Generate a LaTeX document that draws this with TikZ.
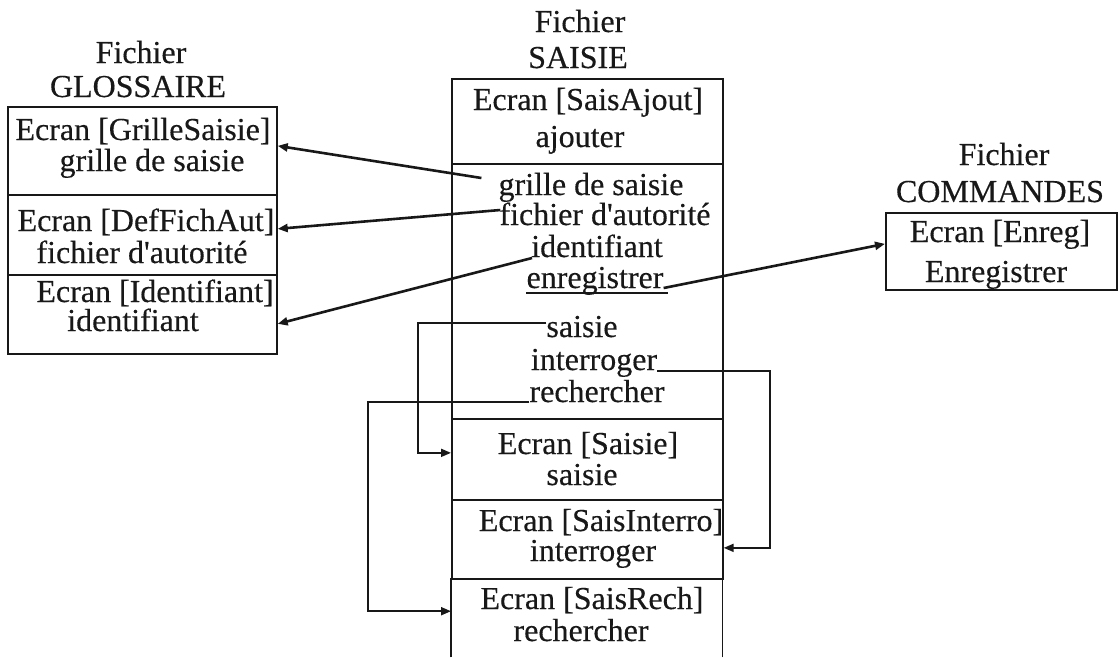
\documentclass[tikz,border=0pt]{standalone}
\usepackage{fontspec}
\setmainfont{Liberation Serif}
\newfontfamily\scanserif[FakeBold=0.35]{Liberation Serif}
\usetikzlibrary{arrows.meta,calc}
\definecolor{ink}{RGB}{24,24,24}
\begin{document}
\begin{tikzpicture}[x=1pt,y=-1pt,
  lbl/.style={inner sep=0pt, anchor=base, text=ink, font=\scanserif\fontsize{32}{32}\selectfont},
  cell/.style={draw=ink, line width=1.7pt, anchor=north west, inner sep=0pt},
  ghost/.style={anchor=north west, inner sep=0pt},
  link/.style={draw=ink, line width=2.6pt, -{Triangle[length=10pt,width=8pt]}},
  loop/.style={draw=ink, line width=1.9pt, -{Triangle[length=10pt,width=8pt]}}
]
\useasboundingbox (0,0) rectangle (1119,657);

% ---- GLOSSAIRE file ----
\node[lbl] (tgl1) at (141,63) {Fichier};
\node[lbl] (tgl2) at (138,97) {GLOSSAIRE};
\node[cell, minimum width=269pt, minimum height=88pt] (gl1) at (7,106) {};
\node[cell, minimum width=269pt, minimum height=80pt] (gl2) at (7,194) {};
\node[cell, minimum width=269pt, minimum height=79pt] (gl3) at (7,274) {};
\node[lbl] (g1a) at (143,140) {Ecran [GrilleSaisie]};
\node[lbl] (g1b) at (152,171) {grille de saisie};
\node[lbl] (g2a) at (146,231) {Ecran [DefFichAut]};
\node[lbl] (g2b) at (142,263) {fichier d'autorité};
\node[lbl] (g3a) at (155,302) {Ecran [Identifiant]};
\node[lbl] (g3b) at (133,331) {identifiant};

% ---- SAISIE file ----
\node[lbl] (tsa1) at (580,32) {Fichier};
\node[lbl] (tsa2) at (578,68) {SAISIE};
\node[cell, minimum width=271pt, minimum height=85pt] (m1) at (451,78) {};
\node[cell, minimum width=271pt, minimum height=255pt] (m2) at (451,163) {};
\node[cell, minimum width=271pt, minimum height=81pt] (m3) at (451,418) {};
\node[cell, minimum width=271pt, minimum height=79pt] (m4) at (451,499) {};
\node[ghost, minimum width=271pt, minimum height=79pt] (m5) at (451,578) {};
\draw[ink, line width=1.7pt] (m5.south west) -- (m5.north west);
\draw[ink, line width=1.7pt] (m5.south east) -- (m5.north east);

\node[lbl] (s1a) at (588,110) {Ecran [SaisAjout]};
\node[lbl] (s1b) at (580,147) {ajouter};
\node[lbl] (tgrille) at (591,195) {grille de saisie};
\node[lbl] (tfich) at (605,225) {fichier d'autorité};
\node[lbl] (tident) at (597,257) {identifiant};
\node[lbl] (tenr) at (595,288) {enregistrer};
\draw[ink, line width=1.3pt] ($(tenr.base west)+(0,5)$) -- ($(tenr.base east)+(4,5)$);
\node[lbl] (tsais) at (582,337) {saisie};
\node[lbl] (tinter) at (594,370) {interroger};
\node[lbl] (trech) at (597,402) {rechercher};

\node[lbl] (s3a) at (588,454) {Ecran [Saisie]};
\node[lbl] (s3b) at (582,485) {saisie};
\node[lbl] (s4a) at (601,531) {Ecran [SaisInterro]};
\node[lbl] (s4b) at (593,561) {interroger};
\node[lbl] (s5a) at (592,609) {Ecran [SaisRech]};
\node[lbl] (s5b) at (581,641) {rechercher};

% ---- COMMANDES file ----
\node[lbl] (tco1) at (1004,165) {Fichier};
\node[lbl] (tco2) at (1000,202) {COMMANDES};
\node[cell, minimum width=231pt, minimum height=77pt] (cmd) at (885,212) {};
\node[lbl] (c1a) at (1000,242) {Ecran [Enreg]};
\node[lbl] (c1b) at (996,282) {Enregistrer};

% ---- links to other files ----
\draw[link] ($(tgrille.base west)+(-17,-17)$) -- ([yshift=5pt]gl1.east);
\draw[link] ($(tfich.base west)+(1,-15)$) -- ([yshift=6pt]gl2.east);
\draw[link] ($(tident.base west)+(1,1)$) -- ([yshift=-9.5pt]gl3.east);
\draw[link] (tenr.base east) -- ([yshift=7.5pt]cmd.west);

% ---- links inside SAISIE ----
\coordinate (bx1) at (418,0);
\coordinate (bx2) at (770,0);
\coordinate (bx3) at (368,0);
\path ($(tsais.base west)+(0,-14)$) coordinate (st1);
\path ($(tinter.base east)+(0,1)$) coordinate (st2);
\path (trech.base west) coordinate (st3);
\draw[loop] (st1) -- (st1 -| bx1) |- ([yshift=6.5pt]m3.west);
\draw[loop] (st2) -- (st2 -| bx2) |- ([yshift=-8.5pt]m4.east);
\draw[loop] (st3) -- (st3 -| bx3) |- ([yshift=6.5pt]m5.west);
\end{tikzpicture}
\end{document}
